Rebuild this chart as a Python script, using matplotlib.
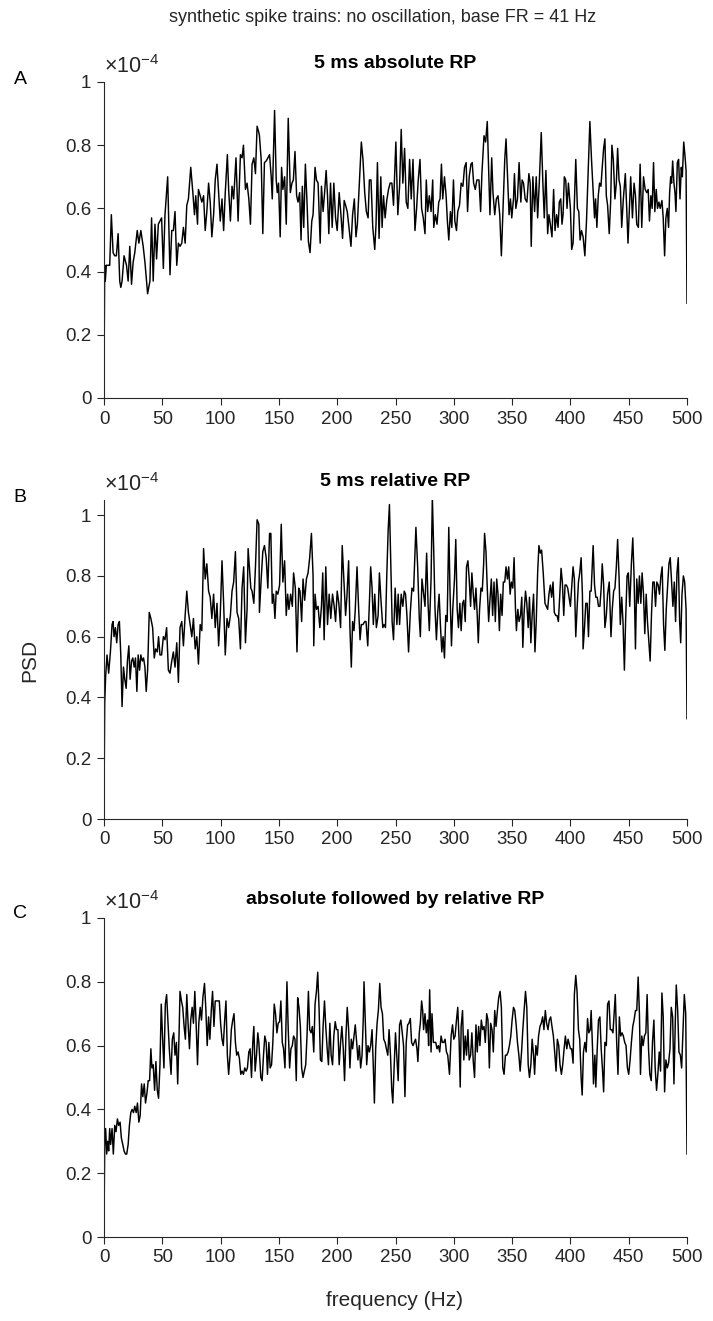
#!/usr/bin/env python3
"""PSD of synthetic spike trains, three refractory-period variants (values in units of 1e-4)."""

import matplotlib
matplotlib.use('Agg')
import matplotlib.pyplot as plt

plt.rcParams['font.family'] = ['Liberation Sans', 'DejaVu Sans']
plt.rcParams['mathtext.fontset'] = 'custom'
plt.rcParams['mathtext.rm'] = 'Liberation Sans'
plt.rcParams['mathtext.it'] = 'Liberation Sans'

GREY = '#262626'

# --- panel A: 5 ms absolute RP ---
freq_a = [
    0, 0.6, 1.1, 2.0, 3.4, 4.9, 6.3, 7.8, 9.2, 10.6, 12.1, 13.5, 14.4, 15.5, 17.2, 19.3,
    20.7, 22.1, 23.6, 25.0, 26.4, 28.5, 29.9, 31.6, 33.6, 35.1, 37.4, 39.4, 40.8, 42.2,
    43.7, 45.1, 46.6, 48.0, 49.4, 50.9, 52.3, 54.6, 56.6, 58.1, 59.5, 60.9, 62.4, 63.8,
    65.2, 66.7, 68.1, 69.6, 71.0, 72.4, 74.4, 76.2, 77.6, 78.7, 80.2, 81.0, 82.5, 83.9,
    85.4, 86.8, 88.2, 89.7, 91.1, 92.5, 94.0, 95.4, 96.9, 98.3, 99.7, 101.2, 102.6, 104.0,
    105.8, 106.9, 108.4, 109.8, 111.2, 113.2, 115.0, 117.0, 118.4, 119.6, 121.3, 122.7,
    124.2, 125.6, 127.0, 128.5, 129.9, 131.3, 132.8,
    133.3, 134.8, 136.2, 137.6, 139.1, 140.5, 142.0, 143.4, 144.3, 145.4, 146.3, 147.7,
    148.6, 149.7, 151.1, 152.3, 153.4, 154.9, 156.3, 158.0, 159.8, 161.2, 162.4, 163.8,
    165.2, 166.4, 167.8, 169.0, 170.1, 171.3, 172.7, 174.1, 175.3, 176.7, 178.2, 179.3,
    181.0, 182.2, 183.6, 185.4, 186.5, 187.9, 189.4, 190.5, 191.7, 192.8, 194.3, 195.7,
    197.1, 198.6, 200.0, 201.7, 203.2, 204.6, 206.0, 207.2, 208.6, 210.1, 211.8, 213.2,
    214.7, 216.1, 217.3, 219.0, 220.7, 222.1, 223.6, 225.0, 226.5, 227.6, 229.0, 230.5,
    232.2, 233.3, 234.5, 235.9, 237.4, 238.5, 239.7, 241.1, 242.5, 244.0, 245.4, 246.9,
    248.3, 250.3, 252.0, 253.5, 254.9, 256.3, 257.8, 259.2, 260.6, 262.1, 263.5, 265.0,
    266.7, 268.1, 269.5, 271.0, 272.4, 273.8, 275.3, 276.4, 277.6, 279.0, 280.5, 281.9,
    282.8, 284.2, 285.6, 287.1, 288.2, 289.4, 290.5, 292.0, 293.4, 294.5, 295.7, 297.1,
    298.3, 299.7, 300.9, 302.3, 303.4, 304.9, 306.3, 307.8, 309.2, 310.6, 311.8, 313.2,
    314.7, 315.8, 317.0, 318.4, 319.8, 321.6, 323.0, 324.1, 325.9, 327.3, 328.7, 329.9,
    331.0, 332.5, 333.6, 335.1, 336.5, 337.9, 339.4, 340.8, 342.2, 343.7, 344.8, 346.0,
    347.4, 348.6, 349.7, 351.2, 352.0, 353.2, 354.6, 356.0, 357.5, 358.6, 359.8, 361.2,
    362.7, 364.4, 365.5, 366.4, 367.8, 369.3, 370.7, 371.9, 373.3, 375.0, 376.4, 377.6,
    379.0, 380.5, 381.6, 382.8, 384.2, 385.6, 386.8, 388.2, 389.4, 390.5, 391.7, 392.8,
    393.7, 394.8, 396.0, 397.1, 398.3,
    400.0, 401.1, 402.3, 403.4, 404.6, 406.0, 407.2, 408.3, 409.5, 410.9, 412.4, 413.8,
    415.2, 416.7, 418.1, 419.3, 420.7, 421.6, 422.7, 423.9, 425.0, 426.2, 427.3, 428.5,
    429.6, 430.8, 431.9, 433.3, 434.5, 435.6, 436.8, 438.2, 439.4, 440.5, 441.7, 442.8,
    444.0, 445.4, 447.1, 448.3, 449.4, 450.6, 451.7, 453.2, 454.6, 455.8, 456.9, 458.3,
    459.8, 461.2, 462.7, 464.1, 465.5, 466.7, 467.8, 469.0, 470.1, 471.3, 472.4, 473.6,
    474.7, 475.9, 477.0, 478.5, 479.6, 480.8, 481.9, 483.1, 484.2, 485.1, 486.0, 486.8,
    487.7, 488.8, 489.7, 490.5, 491.7, 492.8, 494.0, 495.1, 496.0, 497.2, 498.3, 499.2,
    500.0,
]
psd_a = [
    0.07, 0.42, 0.37, 0.42, 0.42, 0.42, 0.58, 0.46, 0.45, 0.45, 0.52, 0.37, 0.35, 0.37, 0.45, 0.42,
    0.37, 0.48, 0.36, 0.43, 0.46, 0.53, 0.49, 0.53, 0.48, 0.43, 0.33, 0.37, 0.57, 0.37,
    0.55, 0.44, 0.55, 0.56, 0.57, 0.41, 0.58, 0.70, 0.39, 0.53, 0.53, 0.59, 0.42, 0.49,
    0.48, 0.49, 0.54, 0.49, 0.61, 0.63, 0.73, 0.65, 0.58, 0.64, 0.55, 0.66, 0.64, 0.62,
    0.64, 0.53, 0.59, 0.68, 0.62, 0.51, 0.58, 0.69, 0.74, 0.65, 0.56, 0.63, 0.53, 0.65,
    0.77, 0.66, 0.56, 0.67, 0.63, 0.76, 0.56, 0.77, 0.76, 0.80, 0.66, 0.68,
    0.63, 0.55, 0.74, 0.76, 0.71, 0.86, 0.84,
    0.83, 0.755, 0.52, 0.745, 0.75, 0.76, 0.77, 0.70, 0.63, 0.79, 0.91, 0.69,
    0.65, 0.68, 0.51, 0.73, 0.66, 0.70, 0.55, 0.885, 0.65, 0.68, 0.69, 0.78,
    0.64, 0.62, 0.65, 0.50, 0.67, 0.54, 0.74, 0.62, 0.495, 0.46, 0.56, 0.58,
    0.73, 0.69, 0.68, 0.49, 0.67, 0.59, 0.66, 0.72, 0.64, 0.52, 0.68, 0.54,
    0.68, 0.57, 0.53, 0.65, 0.58, 0.505, 0.625, 0.61, 0.59, 0.54, 0.48, 0.58,
    0.63, 0.51, 0.55, 0.68, 0.81, 0.755, 0.65, 0.59, 0.57, 0.69, 0.69, 0.54,
    0.47, 0.55, 0.745, 0.505, 0.70, 0.54, 0.64, 0.57, 0.625, 0.66, 0.68, 0.68,
    0.61, 0.81, 0.58, 0.67, 0.85, 0.68, 0.79, 0.62, 0.60, 0.755, 0.63, 0.755,
    0.53, 0.60, 0.69, 0.755, 0.60, 0.57, 0.52, 0.69, 0.59, 0.64, 0.59, 0.69,
    0.54, 0.58, 0.55, 0.62, 0.63, 0.74, 0.63, 0.70, 0.64, 0.56, 0.50, 0.59,
    0.54, 0.69, 0.56, 0.53, 0.59, 0.61, 0.68, 0.67, 0.73, 0.745, 0.59, 0.70,
    0.74, 0.745, 0.68, 0.66, 0.69, 0.69, 0.59, 0.71, 0.83, 0.81, 0.875, 0.72,
    0.58, 0.76, 0.65, 0.58, 0.63, 0.64, 0.58, 0.45, 0.60, 0.755, 0.82, 0.71,
    0.58, 0.63, 0.57, 0.63, 0.71, 0.60, 0.63, 0.745, 0.62, 0.69, 0.68, 0.63,
    0.62, 0.71, 0.68, 0.48, 0.70, 0.59, 0.70, 0.57, 0.68, 0.84, 0.68, 0.57,
    0.72, 0.52, 0.58, 0.55, 0.51, 0.66, 0.53, 0.58, 0.54, 0.62, 0.63, 0.55,
    0.58, 0.70, 0.69, 0.60, 0.68,
    0.60, 0.47, 0.49, 0.62, 0.755, 0.60, 0.59, 0.50, 0.53, 0.51, 0.45, 0.56,
    0.71, 0.875, 0.755, 0.67, 0.57, 0.63, 0.54, 0.64, 0.68, 0.67, 0.73, 0.79,
    0.82, 0.64, 0.61, 0.52, 0.62, 0.80, 0.755, 0.63, 0.68, 0.79, 0.69, 0.67,
    0.54, 0.63, 0.71, 0.60, 0.49, 0.60, 0.70, 0.57, 0.68, 0.64, 0.55, 0.54,
    0.74, 0.54, 0.70, 0.66, 0.65, 0.66, 0.56, 0.64, 0.60, 0.745, 0.59, 0.66,
    0.60, 0.62, 0.60, 0.625, 0.57, 0.45, 0.57, 0.60, 0.54, 0.65, 0.70, 0.68,
    0.75, 0.68, 0.65, 0.59, 0.745, 0.755, 0.63, 0.73, 0.70, 0.81, 0.765, 0.72,
    0.30,
]

# --- panel B: 5 ms relative RP ---
freq_b = [
    0, 0.6, 1.4, 2.6, 4.0, 5.5, 6.9, 7.8, 8.6, 9.8, 10.9, 12.1, 13.2, 14.4, 15.5, 16.7,
    17.8, 19.0, 20.1, 21.3, 22.4, 23.6, 24.7, 25.9, 27.0, 28.2, 29.3, 30.5, 31.6, 32.8,
    33.9, 35.1, 36.2, 37.4, 38.8, 40.2, 41.7, 43.1, 44.3, 45.7, 46.8, 48.0, 49.4, 50.9,
    52.3, 53.7, 55.2, 56.6, 58.1, 59.5, 60.9, 62.4, 63.8, 65.2, 66.7, 68.1, 69.6, 71.0,
    72.4, 73.9, 75.3, 76.7, 78.2, 79.6, 81.0, 82.5, 83.9, 85.4, 86.8, 88.2, 89.7, 91.1,
    92.5, 94.0, 95.4, 96.9, 98.3, 99.7, 101.2, 102.6, 104.0, 105.5, 106.9, 108.4, 109.8,
    111.2, 112.7, 114.1, 115.5, 117.0, 118.4, 119.8, 121.3, 122.7, 123.6, 124.7, 125.9,
    127.0, 128.5, 129.9, 131.3, 132.8,
    133.3, 134.8, 136.2, 137.6, 139.1, 140.5, 142.0, 143.1, 144.3, 145.4, 146.6, 147.7,
    149.1, 150.6, 152.0, 153.4, 154.9, 156.3, 157.5, 158.6, 160.1, 161.5, 162.6, 164.1,
    165.5, 167.0, 168.1, 169.5, 170.7, 172.1, 173.6, 175.0, 176.4, 177.9, 179.3, 179.9,
    181.0, 182.2, 183.6, 185.1, 186.5, 187.6, 188.8, 190.2, 191.7, 193.1, 194.5, 196.0,
    197.4, 198.6, 200.0, 201.4, 202.9, 204.3, 205.7, 207.2, 208.3, 209.8, 210.9, 212.1,
    213.2, 214.4, 215.5, 217.0, 218.4, 219.6, 220.7, 222.1, 223.6, 224.7, 226.2, 227.6,
    228.7, 229.9, 231.0, 232.2, 233.6, 235.1, 236.2, 237.7, 239.1, 240.2, 241.4, 242.5,
    243.7, 244.8, 246.0, 247.1, 248.3, 249.7, 251.2, 252.3, 253.5, 254.9, 256.3, 257.5,
    258.6, 259.8, 261.2, 262.7, 264.1, 265.5,
    267.5, 269.0, 270.4, 271.3, 272.7, 274.1, 275.3, 276.7, 277.9, 279.0, 280.5, 281.6,
    282.8, 283.9, 285.1, 286.2, 287.4, 288.5, 289.7, 290.8, 292.0, 293.1, 294.3, 295.7,
    296.8, 298.0, 299.1, 300.6, 301.7, 302.9, 304.0, 305.2, 306.3, 307.5, 308.6, 309.8,
    310.9, 312.1, 313.2, 314.4, 315.5, 316.7, 317.8, 319.0, 320.1, 321.0, 322.1, 323.3,
    324.4, 325.6, 326.4, 327.6, 328.7, 329.9, 331.0, 332.2, 333.3, 334.5, 335.6, 336.8,
    337.9, 339.1, 340.2, 341.4, 342.5, 343.7, 344.8, 346.0, 347.1, 348.3, 349.4, 350.6,
    351.7, 352.9, 353.7, 354.9, 356.0, 357.2, 358.3, 359.2, 360.3, 361.5, 362.6, 363.8,
    364.9, 366.1, 367.2, 368.4, 369.6, 370.7, 371.9, 373.0, 374.2, 375.3, 376.7, 378.2,
    379.3, 380.5, 381.6, 382.8, 383.9, 385.1, 386.2, 387.4, 388.5, 389.7, 390.8, 392.0,
    393.1, 394.3, 395.4, 396.6, 397.7,
    400.0, 401.1, 402.3, 403.4, 404.6, 405.7, 406.9, 408.0, 409.2, 410.3, 410.9, 412.1,
    413.2, 414.4, 415.5, 416.7, 417.8, 419.0, 419.5, 420.7, 421.8, 423.0, 424.1, 425.3,
    426.4, 427.3, 428.5, 429.6, 430.8, 431.9, 433.3, 434.8, 435.9, 437.1, 438.2, 439.4,
    440.5, 441.7, 442.8, 444.0, 445.1, 446.3, 447.4, 448.6, 449.7, 450.9, 452.3, 453.5,
    454.6, 455.8, 456.9, 458.1, 459.2, 460.4, 461.5, 462.7, 463.8, 465.0, 466.1, 467.3,
    468.4, 469.6, 470.7, 471.9, 473.0, 474.1, 475.3, 476.4, 477.6, 478.7, 479.9, 481.0,
    482.2, 483.3, 484.5, 485.6, 486.8, 487.9, 489.1, 490.2, 491.4, 492.5, 493.7, 494.6,
    495.7, 496.9, 498.0, 499.2, 500.0,
]
psd_b = [
    0.05, 0.38, 0.47, 0.54, 0.48, 0.55, 0.64, 0.65, 0.60, 0.63, 0.58, 0.64, 0.65, 0.54, 0.37, 0.50,
    0.46, 0.43, 0.52, 0.57, 0.46, 0.52, 0.53, 0.50, 0.53, 0.42, 0.54, 0.49, 0.54, 0.52,
    0.53, 0.50, 0.42, 0.49, 0.68, 0.66, 0.63, 0.53, 0.56, 0.55, 0.60, 0.54, 0.54, 0.60,
    0.59, 0.63, 0.49, 0.48, 0.52, 0.55, 0.50, 0.58, 0.45, 0.63, 0.65, 0.57, 0.67, 0.75,
    0.68, 0.64, 0.60, 0.66, 0.56, 0.60, 0.51, 0.64, 0.62, 0.89, 0.79, 0.84, 0.75, 0.73,
    0.66, 0.74, 0.63, 0.71, 0.57, 0.67, 0.85, 0.71, 0.54, 0.66, 0.63, 0.67, 0.75,
    0.78, 0.88, 0.68, 0.66, 0.56, 0.76, 0.83, 0.58, 0.69, 0.89, 0.83, 0.76,
    0.75, 0.71, 0.83, 0.985, 0.97,
    0.68, 0.79, 0.88, 0.90, 0.86, 0.76, 0.94, 0.94, 0.71, 0.74, 0.66, 0.75,
    0.74, 0.77, 0.97, 0.78, 0.85, 0.67, 0.74, 0.69, 0.74, 0.70, 0.81, 0.76,
    0.55, 0.76, 0.75, 0.65, 0.79, 0.72, 0.79, 0.81, 0.86, 0.94, 0.80, 0.57,
    0.74, 0.69, 0.70, 0.63, 0.70, 0.81, 0.59, 0.83, 0.64, 0.74, 0.66, 0.74,
    0.70, 0.65, 0.75, 0.71, 0.63, 0.90, 0.79, 0.67, 0.73, 0.85, 0.63, 0.50,
    0.65, 0.62, 0.69, 0.83, 0.69, 0.59, 0.64, 0.64, 0.65, 0.65, 0.57, 0.71,
    0.83, 0.76, 0.64, 0.74, 0.63, 0.67, 0.81, 0.71, 0.63, 0.64, 0.63, 0.80,
    0.95, 1.035, 0.83, 0.65, 0.59, 0.76, 0.64, 0.74, 0.64, 0.74, 0.70, 0.75,
    0.74, 0.67, 0.55, 0.68, 0.76, 0.75,
    0.96, 0.83, 0.66, 0.60, 0.79, 0.74, 0.70, 0.875, 0.71, 0.62, 0.79, 1.06,
    0.88, 0.69, 0.59, 0.68, 0.74, 0.64, 0.55, 0.60, 0.53, 0.67, 0.65, 0.96,
    0.74, 0.57, 0.69, 0.79, 0.92, 0.69, 0.63, 0.71, 0.62, 0.71, 0.72, 0.65,
    0.83, 0.85, 0.79, 0.70, 0.81, 0.74, 0.69, 0.76, 0.67, 0.58, 0.69, 0.76,
    0.75, 0.84, 0.94, 0.88, 0.76, 0.65, 0.72, 0.79, 0.67, 0.78, 0.65, 0.79,
    0.74, 0.62, 0.74, 0.67, 0.78, 0.78, 0.83, 0.79, 0.83, 0.74, 0.78, 0.76,
    0.86, 0.69, 0.62, 0.69, 0.65, 0.67, 0.73, 0.565, 0.68, 0.75, 0.71, 0.63,
    0.73, 0.58, 0.67, 0.74, 0.55, 0.65, 0.81, 0.90, 0.875, 0.885, 0.81, 0.71,
    0.70, 0.69, 0.74, 0.77, 0.73, 0.78, 0.68, 0.67, 0.67, 0.65, 0.73, 0.825,
    0.78, 0.67, 0.77, 0.77, 0.76,
    0.70, 0.76, 0.83, 0.79, 0.60, 0.69, 0.78, 0.81, 0.86, 0.74, 0.56, 0.63,
    0.71, 0.71, 0.60, 0.75, 0.75, 0.86, 0.90, 0.77, 0.73, 0.73, 0.70, 0.70,
    0.76, 0.84, 0.77, 0.63, 0.67, 0.74, 0.78, 0.60, 0.69, 0.75, 0.76, 0.83,
    0.92, 0.80, 0.64, 0.73, 0.65, 0.49, 0.66, 0.80, 0.81, 0.70, 0.84, 0.925,
    0.80, 0.56, 0.79, 0.71, 0.80, 0.71, 0.81, 0.74, 0.61, 0.74, 0.65, 0.58,
    0.52, 0.68, 0.78, 0.78, 0.70, 0.78, 0.77, 0.74, 0.80, 0.83, 0.64, 0.555,
    0.69, 0.76, 0.84, 0.86, 0.78, 0.70, 0.78, 0.65, 0.81, 0.86, 0.65, 0.58,
    0.74, 0.80, 0.78, 0.69, 0.33,
]

# --- panel C: absolute followed by relative RP ---
freq_c = [
    0, 0.6, 1.4, 2.3, 3.2, 4.0, 4.9, 5.7, 6.9, 8.0, 9.2, 10.3, 11.5, 12.6, 13.8, 14.9,
    16.1, 17.2, 18.4, 19.5, 20.7, 21.8, 23.0, 24.1, 25.3, 26.4, 27.6, 28.7, 29.9, 31.0,
    32.2, 33.3, 34.5, 35.6, 36.8, 37.9, 39.1, 40.2, 41.1, 42.2, 43.4, 44.5, 45.7, 46.8,
    48.0, 49.1, 50.3, 51.4, 52.6, 53.7, 54.9, 56.0, 57.5, 58.6, 59.8, 60.9, 62.1, 63.2,
    64.4, 65.2, 66.4, 67.5, 68.7, 69.8, 71.0, 72.1, 73.3, 74.4, 75.6, 76.7, 77.9, 79.0,
    80.2, 81.3, 82.5, 83.6, 84.8, 86.2, 87.4, 88.5, 89.7, 90.8, 92.0, 93.1, 94.3, 95.4,
    96.6, 97.7, 98.9, 100.0, 101.2, 102.3, 103.5, 104.6, 105.8, 106.9, 108.1, 109.2,
    110.4, 111.5, 112.7, 113.8, 115.0, 116.1, 117.3, 118.4, 119.6, 120.7, 121.9, 123.0,
    124.2, 125.3, 126.5, 127.6, 128.5, 129.6, 130.8, 131.9, 132.8,
    134.5, 135.6, 136.8, 137.9, 139.1, 140.2, 141.4, 142.5, 143.7, 144.8, 146.0, 147.1,
    148.3, 149.4, 150.6, 151.7, 152.9, 154.0, 155.2, 156.3, 156.9, 158.0, 159.2, 160.3,
    161.5, 162.6, 163.8, 164.9, 166.1, 167.2, 168.4, 169.5, 170.7, 171.8, 173.0, 174.1,
    175.3, 176.4, 177.6, 178.7, 179.9, 181.0, 182.2, 183.3, 184.5, 185.6, 186.8, 187.9,
    189.1, 190.2, 191.4, 192.5, 193.7, 194.8, 196.0, 197.1, 198.3, 199.4, 200.6, 201.7,
    202.9, 204.0, 205.2, 206.3, 207.5, 208.6, 209.8, 210.9, 212.1, 213.2, 214.4, 215.5,
    216.7, 217.8, 219.0, 220.1, 221.3, 222.4, 223.0, 224.1, 225.3, 226.4, 227.6, 228.7,
    229.9, 231.0, 231.9, 233.0, 234.2, 235.3, 236.5, 237.6, 238.8, 239.9, 241.1, 242.2,
    243.4, 244.5, 245.7, 246.8, 247.7, 248.8, 250.0, 251.1, 252.3, 253.5, 254.6, 255.8,
    256.9, 258.1, 259.2, 260.4, 261.5, 262.7, 263.8, 265.0,
    267.2, 268.4, 269.2, 270.4, 271.3, 272.4, 273.3, 274.1, 275.3, 276.4, 277.6, 278.4,
    279.3, 280.5, 281.3, 282.5, 283.3, 284.5, 285.6, 286.8, 287.9, 289.1, 290.2, 291.4,
    292.5, 293.7, 294.8, 296.3, 297.7, 298.9, 300.0, 301.1, 302.3, 303.4, 304.6, 305.5,
    306.3, 307.5, 308.6, 309.8, 310.9, 312.1, 313.2, 314.4, 315.5, 316.7, 317.8, 319.0,
    320.1, 321.3, 322.4, 323.6, 324.7, 325.9, 327.0, 328.2, 329.3, 330.5, 331.6, 332.8,
    333.9, 335.1, 336.2, 337.4, 338.5, 339.7, 340.8, 342.0, 343.1, 344.3, 345.4, 346.6,
    347.7, 348.9, 350.0, 351.2, 352.3, 353.5, 354.6, 355.8, 356.9, 358.1, 359.2, 360.3,
    361.5, 362.6, 363.8, 364.9, 366.1, 367.2, 368.4, 369.3, 370.4, 371.6, 372.7, 373.9,
    375.0, 376.2, 377.3, 378.5, 379.6, 380.8, 381.9, 383.1, 384.2, 385.4, 386.5, 387.7,
    388.8, 390.0, 391.1, 392.3, 393.4, 394.6, 395.7, 396.9, 398.0,
    400.0, 401.1, 402.3, 403.4, 404.6, 405.7, 406.9, 408.0, 409.2, 410.1, 411.2, 412.4,
    413.5, 414.7, 415.8, 417.0, 417.8, 419.0, 419.8, 421.0, 421.8, 423.0, 424.1, 425.3,
    426.4, 427.6, 428.5, 429.6, 430.8, 431.9, 433.1, 434.2, 435.4, 436.5, 437.7, 438.5,
    439.7, 440.8, 442.0, 443.1, 444.3, 445.4, 446.6, 447.7, 448.9, 450.0, 451.2, 452.3,
    453.5, 454.6, 455.8, 456.9, 458.1, 459.2, 460.1, 461.2, 462.4, 463.5, 464.7, 465.8,
    467.0, 468.1, 469.3, 470.4, 471.6, 472.7, 473.9, 475.0, 476.2, 477.3, 478.5, 479.6,
    480.8, 481.9, 483.1, 484.2, 485.4, 486.5, 487.7, 488.8, 490.0, 490.8, 492.0, 493.1,
    494.3, 495.4, 496.6, 497.7, 498.9, 500.0,
]
psd_c = [
    0.04, 0.29, 0.34, 0.26, 0.30, 0.27, 0.34, 0.29, 0.34, 0.26, 0.35, 0.33, 0.37, 0.35, 0.36, 0.31,
    0.29, 0.27, 0.26, 0.26, 0.29, 0.35, 0.39, 0.40, 0.39, 0.41, 0.39, 0.42, 0.36, 0.38,
    0.48, 0.44, 0.48, 0.42, 0.45, 0.49, 0.49, 0.59, 0.53, 0.54, 0.46, 0.55, 0.46, 0.435,
    0.54, 0.73, 0.62, 0.53, 0.73, 0.76, 0.67, 0.59, 0.51, 0.62, 0.64, 0.57, 0.61, 0.48,
    0.64, 0.77, 0.74, 0.72, 0.66, 0.62, 0.76, 0.67, 0.59, 0.68, 0.72, 0.67, 0.77, 0.67,
    0.54, 0.67, 0.72, 0.68, 0.75, 0.795, 0.71, 0.60, 0.69, 0.62, 0.71, 0.77, 0.66, 0.74,
    0.74, 0.74, 0.74, 0.67, 0.62, 0.60, 0.68, 0.74, 0.57, 0.51, 0.57, 0.65,
    0.68, 0.70, 0.61, 0.57, 0.58, 0.56, 0.51, 0.52, 0.51, 0.53, 0.52, 0.53,
    0.58, 0.59, 0.50, 0.61, 0.66, 0.52, 0.57, 0.64, 0.61,
    0.50, 0.49, 0.57, 0.63, 0.61, 0.51, 0.61, 0.53, 0.54, 0.61, 0.73, 0.70,
    0.64, 0.67, 0.675, 0.74, 0.61, 0.59, 0.53, 0.71, 0.80, 0.65, 0.53, 0.59,
    0.60, 0.63, 0.62, 0.49, 0.75, 0.72, 0.66, 0.53, 0.50, 0.52, 0.54, 0.63,
    0.77, 0.65, 0.64, 0.66, 0.58, 0.73, 0.77, 0.83, 0.71, 0.555, 0.55, 0.66,
    0.74, 0.66, 0.59, 0.54, 0.67, 0.57, 0.54, 0.63, 0.675, 0.65, 0.65, 0.54,
    0.61, 0.66, 0.59, 0.49, 0.63, 0.72, 0.65, 0.53, 0.62, 0.59, 0.63, 0.665,
    0.61, 0.555, 0.60, 0.53, 0.57, 0.69, 0.80, 0.68, 0.54, 0.60, 0.58, 0.60,
    0.65, 0.53, 0.42, 0.59, 0.67, 0.71, 0.795, 0.72, 0.70, 0.62, 0.61, 0.59,
    0.57, 0.65, 0.57, 0.46, 0.42, 0.53, 0.64, 0.57, 0.49, 0.665, 0.68, 0.64,
    0.60, 0.44, 0.61, 0.665, 0.67, 0.685, 0.61, 0.60,
    0.62, 0.59, 0.55, 0.64, 0.67, 0.74, 0.71, 0.65, 0.70, 0.64, 0.68, 0.60,
    0.775, 0.58, 0.70, 0.61, 0.61, 0.61, 0.59, 0.60, 0.58, 0.63, 0.61, 0.61,
    0.62, 0.58, 0.57, 0.51, 0.63, 0.665, 0.62, 0.63, 0.68, 0.72, 0.61, 0.47,
    0.66, 0.71, 0.555, 0.63, 0.57, 0.65, 0.555, 0.57, 0.64, 0.55, 0.50, 0.665,
    0.58, 0.66, 0.60, 0.68, 0.65, 0.66, 0.61, 0.70, 0.68, 0.53, 0.67, 0.65,
    0.58, 0.71, 0.66, 0.71, 0.75, 0.77, 0.72, 0.53, 0.51, 0.57, 0.57, 0.58,
    0.60, 0.63, 0.68, 0.72, 0.71, 0.665, 0.61, 0.57, 0.52, 0.58, 0.65, 0.71,
    0.77, 0.72, 0.54, 0.50, 0.54, 0.62, 0.57, 0.51, 0.60, 0.57, 0.63, 0.66,
    0.67, 0.69, 0.65, 0.71, 0.67, 0.65, 0.68, 0.69, 0.66, 0.63, 0.58, 0.52,
    0.62, 0.60, 0.54, 0.51, 0.54, 0.59, 0.63, 0.59, 0.62,
    0.59, 0.59, 0.545, 0.76, 0.82, 0.77, 0.65, 0.62, 0.50, 0.445, 0.58, 0.61,
    0.58, 0.685, 0.64, 0.65, 0.71, 0.59, 0.48, 0.57, 0.47, 0.59, 0.68, 0.69,
    0.59, 0.52, 0.455, 0.61, 0.60, 0.73, 0.74, 0.65, 0.65, 0.64, 0.71, 0.76,
    0.61, 0.51, 0.69, 0.63, 0.64, 0.63, 0.61, 0.60, 0.53, 0.51, 0.555, 0.61,
    0.66, 0.68, 0.71, 0.71, 0.815, 0.70, 0.51, 0.63, 0.60, 0.63, 0.64, 0.76,
    0.59, 0.51, 0.49, 0.61, 0.68, 0.53, 0.46, 0.51, 0.58, 0.52, 0.765, 0.69,
    0.455, 0.555, 0.53, 0.545, 0.59, 0.72, 0.69, 0.48, 0.68, 0.79, 0.71, 0.58,
    0.57, 0.53, 0.65, 0.76, 0.70, 0.26,
]

titles = ['5 ms absolute RP', '5 ms relative RP', 'absolute followed by relative RP']
letters = ['A', 'B', 'C']
y_tops = [1.0, 1.05, 1.0]
y_ticks = [0, 0.2, 0.4, 0.6, 0.8, 1.0]
y_tick_labels = ['0', '0.2', '0.4', '0.6', '0.8', '1']
x_ticks = list(range(0, 501, 50))

series = [(freq_a, psd_a), (freq_b, psd_b), (freq_c, psd_c)]
for f, p in series:
    assert len(f) == len(p), (len(f), len(p))

W, H = 713, 1321
fig = plt.figure(figsize=(W / 100, H / 100), dpi=100)

# axes boxes in pixels: (left, top, right, bottom)
boxes = [(104, 82, 687, 398), (104, 500, 687, 819), (104, 918, 687, 1237)]
letter_y = [80, 497, 913]

for i, (f, p) in enumerate(series):
    l, t, r, b = boxes[i]
    ax = fig.add_axes([l / W, 1 - b / H, (r - l) / W, (b - t) / H])
    ax.plot(f, p, color='black', linewidth=1.05)
    ax.set_xlim(0, 500)
    ax.set_ylim(0, y_tops[i])
    ax.set_xticks(x_ticks)
    ax.set_yticks(y_ticks)
    ax.set_yticklabels(y_tick_labels)
    ax.spines['top'].set_visible(False)
    ax.spines['right'].set_visible(False)
    for s in ('left', 'bottom'):
        ax.spines[s].set_color(GREY)
        ax.spines[s].set_linewidth(0.8)
    ax.tick_params(direction='out', length=5, width=0.8, colors=GREY,
                   labelsize=13.5, pad=4)
    ax.set_title(titles[i], fontsize=14, fontweight='bold', color='black', pad=10)
    ax.text(0.0, 1.012, r'$\times10^{-4}$', transform=ax.transAxes,
            ha='left', va='bottom', fontsize=15.5, color=GREY)
    fig.text(20 / W, 1 - letter_y[i] / H, letters[i], fontsize=14,
             ha='center', va='center', color='black')

fig.text(383 / W, 1 - 18 / H,
         'synthetic spike trains: no oscillation, base FR = 41 Hz',
         ha='center', va='center', fontsize=13, color=GREY)
fig.text(30 / W, 1 - 660 / H, 'PSD', rotation=90, ha='center', va='center',
         fontsize=15, color=GREY)
fig.text(395 / W, 1 - 1300 / H, 'frequency (Hz)', ha='center', va='center',
         fontsize=15, color=GREY)

fig.savefig('out.png', dpi=100, facecolor='white')
